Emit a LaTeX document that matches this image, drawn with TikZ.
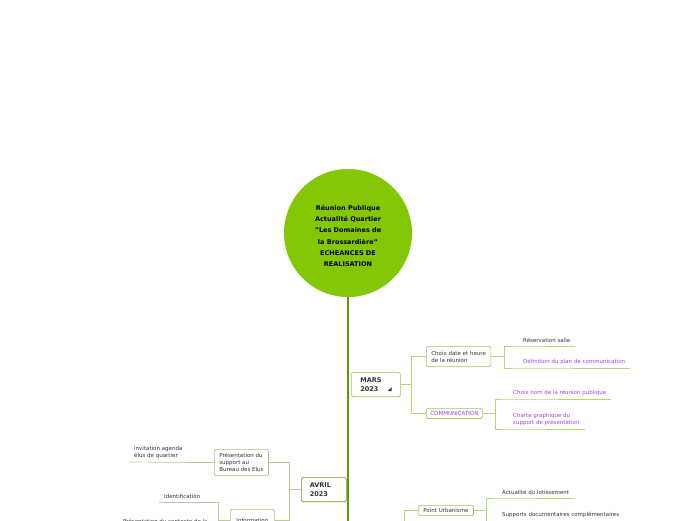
\documentclass[tikz,border=0pt]{standalone}
\usepackage{fontspec}
\setmainfont{DejaVu Sans}
\usetikzlibrary{positioning,calc}
\definecolor{bubble}{HTML}{84C706}
\definecolor{trunkgreen}{HTML}{5E9A08}
\definecolor{marsline}{HTML}{B2D878}
\definecolor{marsbox}{HTML}{9ACC50}
\definecolor{avrilbox}{HTML}{6E9A1E}
\definecolor{avrilline}{HTML}{B9CB9B}
\definecolor{inktext}{HTML}{333333}
\definecolor{commpurple}{HTML}{A640E8}

\begin{document}
\begin{tikzpicture}[x=1pt,y=-1pt,
  topic/.style={draw=marsbox,line width=0.7pt,rounded corners=1.5pt,fill=white,anchor=north west,align=left,
    font=\fontsize{5.5}{7}\selectfont,text=inktext,inner xsep=5pt,inner ysep=3pt},
  month/.style={topic,font=\fontsize{6.5}{8.5}\selectfont\bfseries,text width=31pt,inner xsep=9pt,inner ysep=5.5pt},
  leaf/.style={anchor=south west,align=left,font=\fontsize{5.5}{7}\selectfont,text=inktext,inner xsep=5pt,inner ysep=3pt},
  twig/.style={draw=marsline,line width=0.7pt},
  leftline/.style={draw=avrilline,line width=0.7pt},
  purple/.style={text=commpurple}]

\useasboundingbox (0,0) rectangle (696,520);
\clip (0,0) rectangle (696,520);

% centre
\node[circle,fill=bubble,minimum size=128pt] (root) at (348,233) {};
\node[align=center,font=\fontsize{6.5}{11.2}\selectfont\bfseries] (title) at ($(root.center)+(0,3)$)
  {Réunion Publique\\Actualité Quartier\\"Les Domaines de\\la Brossardière"\\ECHEANCES DE\\REALISATION};
\coordinate (trunkend) at (348,530);
\draw[trunkgreen,line width=1.6pt] (root.south) -- (trunkend);

% MARS
\node[month] (mars) at (351,372) {MARS\\2023};
\fill[inktext] ($(mars.south east)+(-13,-6)$) -- ++(4,0) -- ++(0,-4) -- cycle;
\node[topic,inner ysep=4.5pt] (choix) at (426,346) {Choix date et heure\\de la réunion};
\node[topic,purple,inner xsep=4pt] (comm) at (426,408) {COMMUNICATION};
\coordinate (marsfork) at ($(mars.east)+(11,0)$);
\draw[twig] (mars.east) -- (marsfork) (marsfork) |- (choix.west) (marsfork) |- (comm.west);

\node[leaf] (salle) at (518,346) {Réservation salle};
\node[leaf,purple] (plan) at (518,368) {Définition du plan de communication};
\coordinate (choixfork) at ($(choix.east)+(13,0)$);
\draw[twig,line width=1.2pt] (choix.east) -- (choixfork);
\foreach \l in {salle,plan}
  \draw[twig] (choixfork) |- (\l.south west) -- (\l.south east);

\node[leaf,purple] (nom) at (508,399) {Choix nom de la réunion publique};
\node[leaf,purple] (charte) at (508,429) {Charte graphique du\\support de présentation};
\coordinate (commfork) at ($(comm.east)+(13,0)$);
\draw[twig,line width=1.2pt] (comm.east) -- (commfork);
\foreach \l in {nom,charte}
  \draw[twig] (commfork) |- (\l.south west) -- (\l.south east);

% AVRIL
\node[month,draw=avrilbox,text width=28pt,inner xsep=8.5pt] (avril) at (301,477) {AVRIL\\2023};
\node[topic,draw=avrilline!80!avrilbox,inner ysep=4pt] (pres) at (214,449) {Présentation du\\support au\\Bureau des Elus};
\node[topic,draw=avrilline!80!avrilbox,minimum height=22pt,minimum width=44pt] (info) at (230,509) {Information};
\coordinate (avrilfork) at ($(avril.west)+(-12,0)$);
\draw[leftline,line width=1.2pt] (avril.west) -- (avrilfork);
\draw[leftline] (avrilfork) |- (pres.east) (avrilfork) |- (info.east);

\node[leaf] (invit) at (129,462) {invitation agenda\\élus de quartier};
\draw[leftline] (pres.west) -- (invit.south west);

\node[leaf] (ident) at (159,502) {Identification};
\node[leaf] (contexte) at (118,527) {Présentation du contexte de la};
\coordinate (infofork) at ($(info.west)+(-12,0)$);
\draw[leftline] (info.west) -- (infofork);
\foreach \l in {ident,contexte}
  \draw[leftline] (infofork) |- (\l.south west);

% suite
\node[topic] (urba) at (418,505) {Point Urbanisme};
\coordinate (urbaroot) at (404,530);
\draw[twig] (urbaroot) |- (urba.west);
\node[leaf] (actu) at (497,498) {Actualité du lotissement};
\node[leaf] (docs) at (497,521) {Supports documentaires complémentaires};
\coordinate (urbafork) at ($(urba.east)+(12,0)$);
\draw[twig,line width=1.2pt] (urba.east) -- (urbafork);
\foreach \l in {actu,docs}
  \draw[twig] (urbafork) |- (\l.south west) -- (\l.south east);
\end{tikzpicture}
\end{document}
